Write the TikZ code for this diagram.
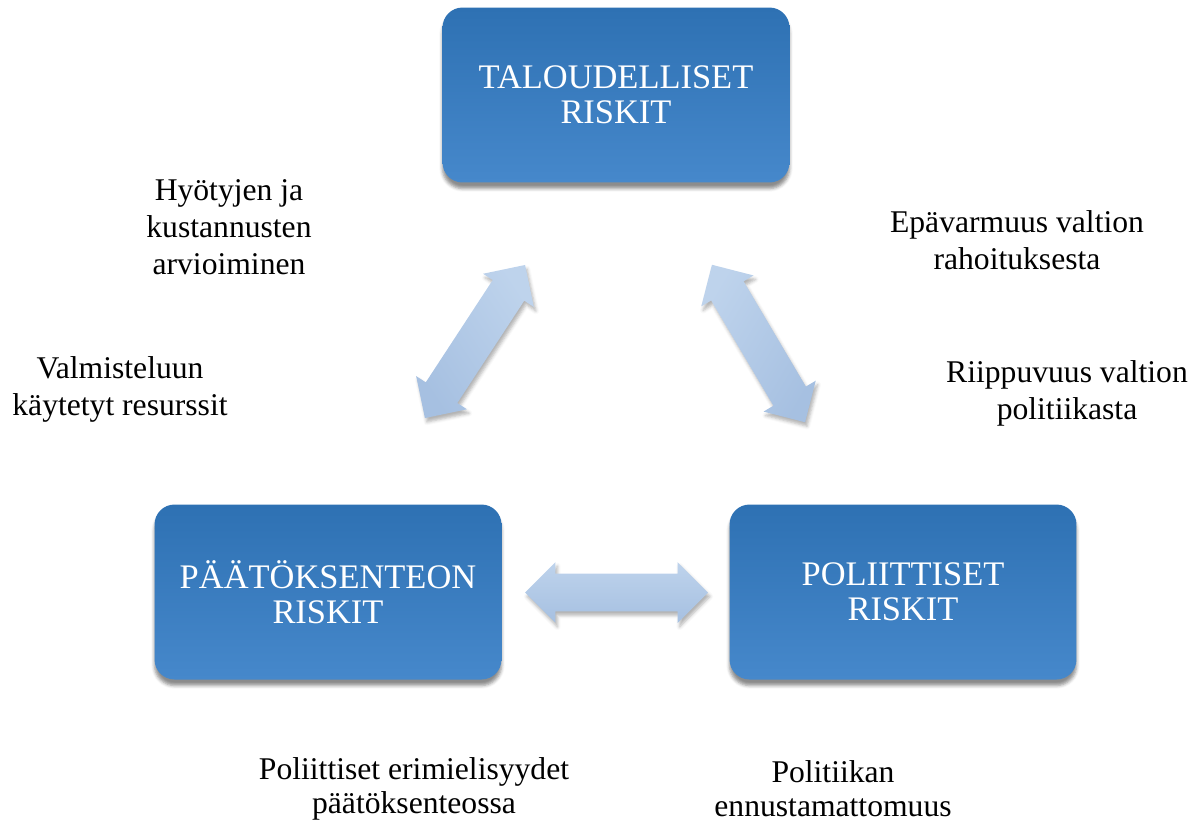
\documentclass[tikz,border=0pt]{standalone}
\usepackage{fontspec}
\setmainfont{Liberation Serif}
\usetikzlibrary{shapes.arrows,shadows.blur}
\definecolor{boxtop}{HTML}{2E71B3}
\definecolor{boxmid}{HTML}{5599DA}
\definecolor{boxbot}{HTML}{4688CB}
\definecolor{arrtop}{HTML}{BED3EC}
\definecolor{arrbot}{HTML}{A6C0E1}

\begin{document}
\begin{tikzpicture}[x=0.02cm,y=-0.02cm,
    riskbox/.style={rounded corners=0.4cm,minimum width=6.94cm,minimum height=3.5cm,
      top color=boxtop,middle color=boxmid,bottom color=boxbot,text=white,align=center,
      font=\fontsize{19.6}{20}\selectfont,
      blur shadow={shadow xshift=0pt,shadow yshift=-0.12cm,shadow opacity=45}},
    link/.style={double arrow,double arrow head extend=0.23cm,minimum height=3.66cm,
      inner xsep=0pt,inner ysep=0.37cm,top color=arrtop,bottom color=arrbot,
      blur shadow={shadow xshift=0.04cm,shadow yshift=-0.08cm,shadow opacity=30}},
    note/.style={align=center,font=\fontsize{18}{21}\selectfont}]
    \useasboundingbox (0,0) rectangle (1195,823);

    % risk boxes
    \node[riskbox] (talous) at (616,95) {TALOUDELLISET\\RISKIT};
    \node[riskbox] (paatos) at (328,592) {PÄÄTÖKSENTEON\\RISKIT};
    \node[riskbox] (politiikka) at (903,592) {POLIITTISET\\RISKIT};

    % arrows between the boxes
    \node[link,rotate=56.8,shading angle=-56.8] (talpaa) at (475,341.5) {};
    \node[link,rotate=-59.4,shading angle=59.4] (talpol) at (758.5,343.5) {};
    \node[link] (paapol) at (616.5,592.5) {};

    % texts
    \node[note] at (229,227) {Hyötyjen ja\\kustannusten\\arvioiminen};
    \node[note] at (120,389) {Valmisteluun\\käytetyt resurssit};
    \node[note] at (1017,240) {Epävarmuus valtion\\rahoituksesta};
    \node[note] at (1067,393) {Riippuvuus valtion\\politiikasta};
    \node[note,font=\fontsize{18}{19.4}\selectfont] at (414,789) {Poliittiset erimielisyydet\\päätöksenteossa};
    \node[note,font=\fontsize{18}{19.4}\selectfont] at (833,789) {Politiikan\\ennustamattomuus};
\end{tikzpicture}
\end{document}
